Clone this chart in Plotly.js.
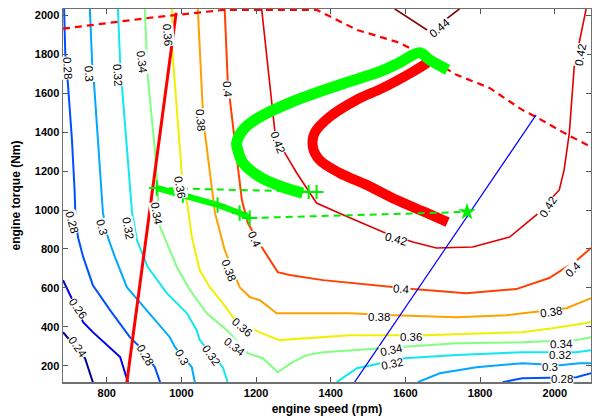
<!DOCTYPE html>
<html>
<head>
<meta charset="utf-8">
<script src="https://cdn.plot.ly/plotly-3.0.1.min.js"></script>
<style>html,body{margin:0;padding:0;background:#fff;}#chart{width:592px;height:418px;}</style>
</head>
<body>
<div id="chart"></div>
<script>
// ---- Efficiency contour levels (engine speed rpm / engine torque Nm) ----
const levels = [0.24, 0.26, 0.28, 0.30, 0.32, 0.34, 0.36, 0.38, 0.40, 0.42, 0.44];
const levelColors = ['#00008f', '#0000e6', '#0050ff', '#00a8ff', '#10e8f0', '#80ff80', '#f0f000', '#ffa000', '#ff4000', '#e00000', '#800000'];

// null separates the separate pieces of one contour level
const c024_rpm = [683, 742, 763];
const c024_nm  = [373, 239, 116];
const c026_rpm = [683, 737, 763, 801, 836, 857];
const c026_nm  = [640, 424, 373, 306, 245, 116];
const c028_rpm = [686, 689, 696, 707, 714, 716, 723, 737, 763, 809, 862, 889, 929, 943, null, 1860, 1913, 2058, 2097];
const c028_nm  = [2033, 1807, 1653, 1360, 1103, 985, 861, 759, 614, 486, 347, 296, 193, 116, null, 116, 136, 141, 162];
const c030_rpm = [755, 761, 766, 787, 790, 803, 822, 854, 908, 969, 983, 1028, 1036, null, 1633, 1692, 1790, 1913, 2012, 2066, 2097];
const c030_nm  = [2033, 1756, 1653, 1103, 985, 861, 759, 604, 486, 347, 296, 193, 116, null, 116, 162, 193, 213, 203, 213, 213];
const c032_rpm = [830, 836, 841, 862, 868, 881, 910, 961, 1015, 1041, 1049, 1111, 1124, null, 1416, 1470, 1598, 1737, 1913, 2058, 2097];
const c032_nm  = [2033, 1761, 1632, 1103, 985, 846, 707, 573, 470, 383, 332, 193, 116, null, 116, 188, 239, 255, 270, 270, 280];
const c034_rpm = [902, 908, 910, 929, 937, 943, 961, 988, 1023, 1068, 1122, 1178, 1218, 1258, 1298, 1336, 1379, 1598, 1737, 1913, 2058, 2097];
const c034_nm  = [2033, 1807, 1684, 1309, 1051, 913, 830, 707, 589, 470, 383, 265, 239, 167, 219, 255, 270, 296, 316, 321, 332, 347];
const c036_rpm = [975, 975, 1001, 1017, 1028, 1049, 1076, 1111, 1138, 1208, 1263, 1352, 1451, 1651, 1913, 1993, 2097];
const c036_nm  = [2033, 1838, 1190, 1015, 861, 692, 604, 522, 450, 373, 332, 342, 357, 357, 373, 393, 424];
const c038_rpm = [1044, 1057, 1063, 1082, 1090, 1116, 1156, 1183, 1210, 1255, 1451, 1566, 1737, 1870, 1950, 2031, 2097];
const c038_nm  = [2033, 1530, 1396, 1103, 985, 795, 604, 553, 537, 470, 470, 460, 450, 460, 476, 496, 548];
const c040_rpm = [1116, 1124, 1130, 1143, 1162, 1178, 1215, 1258, 1290, 1379, 1558, 1620, 1763, 1897, 1985, 2060, 2097];
const c040_nm  = [2033, 1668, 1566, 1360, 1051, 933, 810, 681, 666, 640, 604, 594, 573, 594, 651, 743, 805];
const c042_rpm = [1215, 1250, 1277, 1309, 1362, 1434, 1540, 1620, 1683, 1780, 1879, 1913, 1950, 2012, 2025, 2039, 2052, 2066, 2084];
const c042_nm  = [2033, 1411, 1293, 1190, 1036, 974, 887, 836, 805, 810, 861, 913, 974, 1103, 1206, 1396, 1735, 1864, 2033];
const c044_rpm = [1571, 1665, 1745];
const c044_nm  = [2033, 1915, 2033];

// ---- Other lines ----
const redLine_rpm = [854, 986];
const redLine_nm  = [116, 2013];
const maxTorque_rpm = [683, 916, 1116, 1362, 1470, 1584, 1646, 1737, 1825, 1913, 1950, 2020, 2097];
const maxTorque_nm  = [1931, 1987, 2028, 2028, 1925, 1859, 1797, 1694, 1627, 1514, 1478, 1401, 1324];
const blueLine_rpm = [1464, 1950];
const blueLine_nm  = [116, 1488];

// ---- Operating point trajectories ----
const redPath_rpm = [1659, 1620, 1540, 1470, 1397, 1357, 1352, 1370, 1424, 1496, 1577, 1657, 1713];
const redPath_nm  = [1756, 1710, 1627, 1566, 1478, 1396, 1324, 1257, 1190, 1129, 1051, 985, 938];
const greenPath1_rpm = [1713, 1665, 1638, 1584, 1531, 1424, 1290, 1197, 1165, 1148, 1151, 1165, 1210, 1271, 1325];
const greenPath1_nm  = [1720, 1771, 1807, 1756, 1710, 1643, 1550, 1463, 1411, 1344, 1309, 1242, 1170, 1118, 1087];
const greenTail1_rpm = [1341, 1362];
const greenTail1_nm  = [1093, 1093];
const greenPath2_rpm = [934, 1004, 1097, 1156, 1183];
const greenPath2_nm  = [1113, 1077, 1026, 985, 959];
const greenDash1_rpm = [934, 1370];
const greenDash1_nm  = [1113, 1093];
const greenDash2_rpm = [1183, 1763];
const greenDash2_nm  = [959, 990];
const greenEnd_rpm = [1765];
const greenEnd_nm  = [990];

// ---- Tick labels ----
const xTicks = [800, 1000, 1200, 1400, 1600, 1800, 2000];
const yTicks = [200, 400, 600, 800, 1000, 1200, 1400, 1600, 1800, 2000];

// ---- Contour label placement [level, rpm, Nm, angle] ----
const contourLabels = [
  ['0.28', 696, 1730, 87], ['0.28', 707, 938, 75], ['0.26', 722, 496, 55], ['0.24', 722, 296, 55],
  ['0.3', 753, 1699, 86], ['0.3', 787, 913, 75], ['0.3', 1001, 245, 60],
  ['0.32', 830, 1694, 86], ['0.32', 857, 907, 80], ['0.32', 1079, 255, 55], ['0.28', 903, 255, 60],
  ['0.34', 895, 1761, 83], ['0.34', 934, 980, 80], ['0.34', 1143, 296, 38], ['0.34', 1563, 283, -12], ['0.34', 2018, 313, -3],
  ['0.36', 964, 1900, 85], ['0.36', 996, 1118, 80], ['0.36', 1162, 399, 40], ['0.36', 1614, 349, 0],
  ['0.38', 1052, 1463, 85], ['0.38', 1127, 692, 70], ['0.38', 1529, 452, 0], ['0.38', 1991, 478, -8],
  ['0.4', 1124, 1617, 85], ['0.4', 1197, 846, 65], ['0.4', 1590, 596, 5], ['0.4', 2050, 695, -45],
  ['0.42', 1258, 1349, 70], ['0.42', 1574, 853, 15], ['0.42', 1982, 1015, -58], ['0.42', 2068, 1797, -80],
  ['0.44', 1691, 1936, -40],
  ['0.32', 1563, 212, -12], ['0.32', 2015, 258, 0], ['0.3', 1986, 196, 0], ['0.28', 2018, 132, 0]
];

const contourX = [c024_rpm, c026_rpm, c028_rpm, c030_rpm, c032_rpm, c034_rpm, c036_rpm, c038_rpm, c040_rpm, c042_rpm, c044_rpm];
const contourY = [c024_nm, c026_nm, c028_nm, c030_nm, c032_nm, c034_nm, c036_nm, c038_nm, c040_nm, c042_nm, c044_nm];

const traces = [];
levels.forEach((lv, i) => {
  traces.push({
    type: 'scatter', mode: 'lines', x: contourX[i], y: contourY[i], connectgaps: false,
    line: {color: levelColors[i], width: (lv >= 0.42 ? 1.6 : 2)},
    hoverinfo: 'skip', name: String(lv)
  });
});
traces.push({type: 'scatter', mode: 'lines', x: redLine_rpm, y: redLine_nm, line: {color: '#ff0000', width: 3}, hoverinfo: 'skip'});
traces.push({type: 'scatter', mode: 'lines', x: maxTorque_rpm, y: maxTorque_nm, line: {color: '#ff0000', width: 2.2, dash: '7px,5px'}, hoverinfo: 'skip'});
traces.push({type: 'scatter', mode: 'lines', x: blueLine_rpm, y: blueLine_nm, line: {color: '#0000ff', width: 1.2}, hoverinfo: 'skip'});
traces.push({type: 'scatter', mode: 'lines', x: redPath_rpm, y: redPath_nm, line: {color: '#ff0000', width: 10, shape: 'spline'}, hoverinfo: 'skip'});
traces.push({type: 'scatter', mode: 'lines', x: greenDash1_rpm, y: greenDash1_nm, line: {color: '#00ee00', width: 2, dash: '7px,5px'}, hoverinfo: 'skip'});
traces.push({type: 'scatter', mode: 'lines', x: greenDash2_rpm, y: greenDash2_nm, line: {color: '#00ee00', width: 2, dash: '7px,5px'}, hoverinfo: 'skip'});
traces.push({type: 'scatter', mode: 'lines', x: greenPath1_rpm, y: greenPath1_nm, line: {color: '#00ff00', width: 11, shape: 'spline'}, hoverinfo: 'skip'});
traces.push({type: 'scatter', mode: 'markers', x: greenTail1_rpm, y: greenTail1_nm, marker: {symbol: 'cross-thin-open', size: 10, color: '#00ee00', line: {color: '#00ee00', width: 2}}, hoverinfo: 'skip'});
traces.push({type: 'scatter', mode: 'lines+markers', x: greenPath2_rpm, y: greenPath2_nm, line: {color: '#00ff00', width: 6}, marker: {symbol: 'cross-thin-open', size: 11, color: '#00ee00', line: {color: '#00ee00', width: 2}}, hoverinfo: 'skip'});
traces.push({type: 'scatter', mode: 'markers', x: greenEnd_rpm, y: greenEnd_nm, marker: {symbol: 'star', size: 13, color: '#00ee00'}, hoverinfo: 'skip'});

const annotations = contourLabels.map(l => ({
  x: l[1], y: l[2], xref: 'x', yref: 'y', text: l[0], showarrow: false, textangle: l[3],
  font: {family: 'Liberation Sans, Arial, sans-serif', size: 11.5, color: '#000'},
  bgcolor: 'rgba(255,255,255,1)', borderpad: 0
}));

const axisCommon = {
  showgrid: false, zeroline: false, showline: true, linecolor: '#707070', linewidth: 1.5,
  ticks: 'inside', ticklen: 5, tickwidth: 1, tickcolor: '#555', mirror: 'ticks',
  tickfont: {family: 'Liberation Sans, Arial, sans-serif', size: 11, color: '#000', weight: 'bold'}
};

const layout = {
  width: 592, height: 418,
  margin: {l: 63, r: 1, t: 9, b: 36},
  paper_bgcolor: '#fff', plot_bgcolor: '#fff', showlegend: false,
  font: {family: 'Liberation Sans, Arial, sans-serif'},
  xaxis: Object.assign({}, axisCommon, {
    range: [683, 2097], tickvals: xTicks, ticktext: xTicks.map(String),
    title: {text: 'engine speed (rpm)', font: {size: 12, color: '#000', weight: 'bold'}, standoff: 7}
  }),
  yaxis: Object.assign({}, axisCommon, {
    range: [117, 2032], tickvals: yTicks, ticktext: yTicks.map(String),
    title: {text: 'engine torque (Nm)', font: {size: 12, color: '#000', weight: 'bold'}, standoff: 11}
  }),
  annotations: annotations
};

Plotly.newPlot('chart', traces, layout, {staticPlot: true, displayModeBar: false});
</script>
</body>
</html>
